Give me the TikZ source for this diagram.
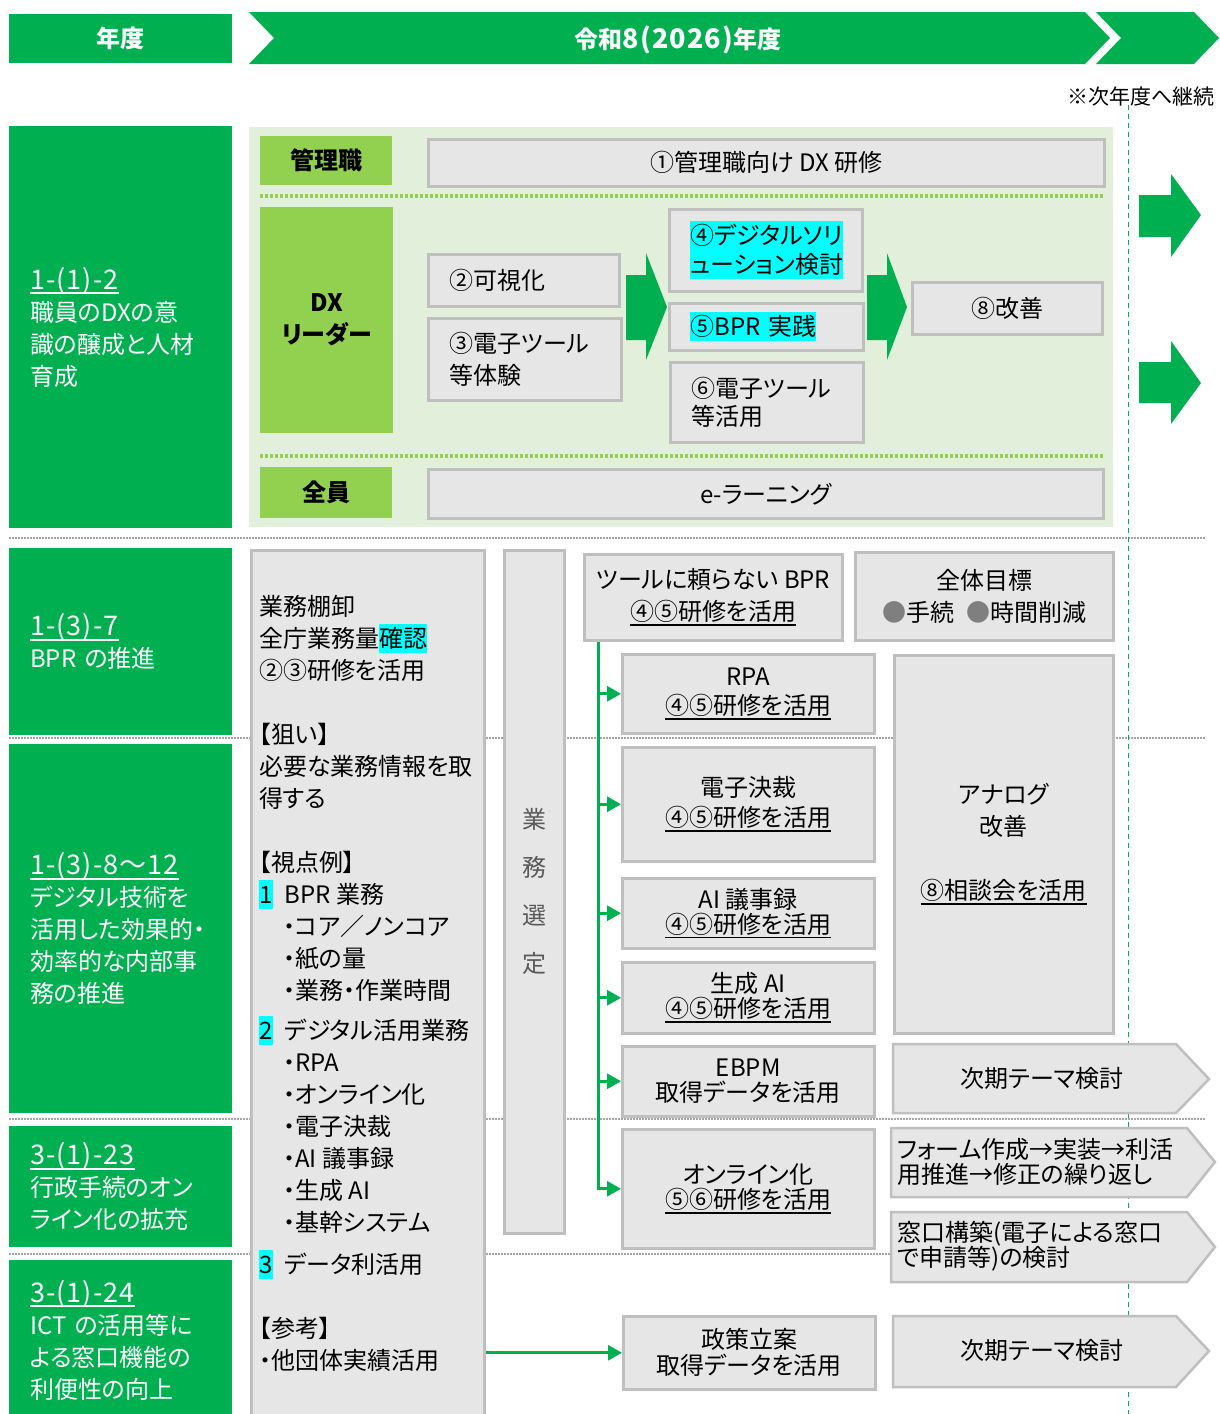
\documentclass[tikz,border=0pt]{standalone}
\usepackage{fontspec}
\setmainfont{Noto Sans CJK JP}[RawFeature=+palt]
\newfontfamily\codefont{Noto Sans CJK JP}[LetterSpace=4]
\usetikzlibrary{arrows.meta}

\definecolor{dxgreen}{HTML}{00B050}
\definecolor{leafgreen}{HTML}{92D050}
\definecolor{panelgreen}{HTML}{E2EFDA}
\definecolor{boxgray}{HTML}{E6E6E6}
\definecolor{boxline}{HTML}{BFBFBF}
\definecolor{hlcyan}{HTML}{00FFFF}
\definecolor{dotgray}{HTML}{A6A6A6}
\definecolor{markgray}{HTML}{7F7F7F}
\definecolor{selgray}{HTML}{595959}

\newcommand{\cyanhl}[1]{{\setlength{\fboxsep}{0pt}\colorbox{hlcyan}{\rule[-6pt]{0pt}{29pt}#1}}}
\newcommand{\ulthick}[1]{{\setbox0\hbox{#1}\rlap{\rule[-5pt]{\wd0}{1.8pt}}\box0}}
\newcommand{\codetext}[1]{{\codefont\fontsize{27}{32}\selectfont #1}}

\begin{document}
\begin{tikzpicture}[x=1pt, y=-1pt, font=\fontsize{24}{32}\selectfont,
  themebox/.style={fill=dxgreen, text=white, anchor=north west, inner ysep=0pt, inner xsep=21pt, text width=181pt, minimum height=#1, align=left},
  rolebox/.style={fill=leafgreen, anchor=north west, inner sep=0pt, align=center, font=\fontsize{24}{32}\selectfont\bfseries},
  planbox/.style={draw=boxline, line width=2.5pt, fill=boxgray, anchor=north west, inner sep=0pt, align=center},
  leftbox/.style={planbox, align=left, inner xsep=21pt},
  nextshape/.style={draw=boxline, line width=2.5pt, fill=boxgray},
  flowline/.style={draw=dxgreen, line width=3pt},
  flowarrow/.style={flowline, -{Triangle[length=14pt,width=15pt]}},
  sepline/.style={dotgray, line width=1.5pt, dash pattern=on 1.5pt off 1.5pt},
  rowline/.style={leafgreen, line width=4pt, dash pattern=on 2.5pt off 2.5pt},
  yearline/.style={dxgreen, line width=1pt, dash pattern=on 5pt off 4pt}]

\useasboundingbox (0,0) rectangle (1219,1414);

% header
\node[fill=dxgreen, text=white, anchor=north west, inner sep=0pt, minimum width=223pt, minimum height=49pt, font=\fontsize{24}{32}\selectfont\bfseries] (nendo) at (9,14) {年度};
\fill[dxgreen] (249,12) -- (1085,12) -- (1110,38) -- (1085,64) -- (249,64) -- (274,38) -- cycle;
\fill[dxgreen] (1096,12) -- (1194,12) -- (1219,38) -- (1194,64) -- (1096,64) -- (1121,38) -- cycle;
\node[text=white, font=\fontsize{24}{32}\selectfont\bfseries] (reiwa) at (678,40) {令和\codetext{8(2026)}年度};
\node[anchor=east, font=\fontsize{21}{24}\selectfont] (carry) at (1218,96) {※次年度へ継続};

% separators
\draw[sepline] (9,538) -- (1205,538);
\draw[sepline] (9,738) -- (1205,738);
\draw[sepline] (9,1119) -- (1205,1119);
\draw[sepline] (9,1254) -- (1205,1254);
\draw[yearline] (1128,105) -- (1128,1414);

% left column
\node[themebox=402pt] (aim1) at (9,126) {\ulthick{\codetext{1-(1)-2}}\\職員のDXの意\\識の醸成と人材\\育成};
\node[themebox=187pt] (aim2) at (9,548) {\ulthick{\codetext{1-(3)-7}}\\BPR の推進};
\node[themebox=369pt] (aim3) at (9,744) {\ulthick{\codetext{1-(3)-8～12}}\\デジタル技術を\\活用した効果的・\\効率的な内部事\\務の推進};
\node[themebox=121pt] (aim4) at (9,1126) {\ulthick{\codetext{3-(1)-23}}\\行政手続のオン\\ライン化の拡充};
\node[themebox=160pt] (aim5) at (9,1260) {\ulthick{\codetext{3-(1)-24}}\\ICT の活用等に\\よる窓口機能の\\利便性の向上};

% DX training panel
\fill[panelgreen] (249,127) rectangle (1113,527);
\draw[rowline] (260,196) -- (1103,196);
\draw[rowline] (260,456) -- (1103,456);

\node[rolebox, minimum width=132pt, minimum height=49pt] (mgr) at (260,136) {管理職};
\node[rolebox, minimum width=133pt, minimum height=226pt] (leader) at (260,207) {DX\\リーダー};
\node[rolebox, minimum width=132pt, minimum height=51pt] (staff) at (260,467) {全員};

\node[planbox, minimum width=676pt, minimum height=47pt] (mgrtrain) at (427,138) {①管理職向け DX 研修};
\node[leftbox, text width=149pt, minimum height=52pt] (visual) at (427,253) {②可視化};
\node[leftbox, text width=151pt, minimum height=82pt] (trial) at (427,317) {③電子ツール\\等体験};
\node[leftbox, text width=151pt, minimum height=82pt, font=\fontsize{24}{29}\selectfont] (solution) at (668,208) {\cyanhl{④デジタルソリ}\\\cyanhl{ューション検討}};
\node[leftbox, text width=152pt, minimum height=47pt] (bprdo) at (668,302) {\cyanhl{⑤BPR 実践}};
\node[leftbox, text width=151pt, minimum height=80pt, font=\fontsize{24}{28}\selectfont] (usetool) at (669,361) {⑥電子ツール\\等活用};
\node[planbox, minimum width=190pt, minimum height=52pt] (improve) at (911,281) {⑧改善};
\node[planbox, minimum width=675pt, minimum height=49pt] (elearn) at (427,468) {e-ラーニング};

\fill[dxgreen] (626,275) -- (646,275) -- (646,253) -- (667,307) -- (646,360) -- (646,340) -- (626,340) -- cycle;
\fill[dxgreen] (867,275) -- (887,275) -- (887,253) -- (907,307) -- (887,360) -- (887,340) -- (867,340) -- cycle;
\fill[dxgreen] (1139,195) -- (1171,195) -- (1171,174) -- (1201,215) -- (1171,257) -- (1171,237) -- (1139,237) -- cycle;
\fill[dxgreen] (1139,362) -- (1171,362) -- (1171,341) -- (1201,383) -- (1171,424) -- (1171,403) -- (1139,403) -- cycle;

% BPR area
\node[planbox, minimum width=233pt, minimum height=872pt] (survey) at (250,549) {};
\node[anchor=north west, align=left, inner sep=0pt] (surveynote) at (259,595) {業務棚卸\\
全庁業務量\cyanhl{確認}\\
②③研修を活用\\[32pt]
【狙い】\\
必要な業務情報を取\\
得する\\[32pt]
【視点例】\\
\cyanhl{1}\hspace{12pt}BPR 業務\\
\hspace*{24pt}・コア／ノンコア\\
\hspace*{24pt}・紙の量\\
\hspace*{24pt}・業務・作業時間\\[8pt]
\cyanhl{2}\hspace{12pt}デジタル活用業務\\
\hspace*{24pt}・RPA\\
\hspace*{24pt}・オンライン化\\
\hspace*{24pt}・電子決裁\\
\hspace*{24pt}・AI 議事録\\
\hspace*{24pt}・生成 AI\\
\hspace*{24pt}・基幹システム\\[10pt]
\cyanhl{3}\hspace{12pt}データ利活用\\[32pt]
【参考】\\
・他団体実績活用};
\node[planbox, minimum width=60pt, minimum height=683pt, text=selgray, font=\fontsize{24}{48}\selectfont] (select) at (503,549) {業\\務\\選\\定};

\node[planbox, minimum width=258pt, minimum height=86pt] (bprtool) at (583,553) {ツールに頼らない BPR\\\ulthick{④⑤研修を活用}};
\node[planbox, minimum width=258pt, minimum height=88pt] (goal) at (854,551) {全体目標\\{\color{markgray}●}手続\hspace{12pt}{\color{markgray}●}時間削減};
\node[planbox, minimum width=252pt, minimum height=79pt, font=\fontsize{24}{29}\selectfont] (rpa) at (621,653) {RPA\\\ulthick{④⑤研修を活用}};
\node[planbox, minimum width=252pt, minimum height=114pt, font=\fontsize{24}{30}\selectfont] (esign) at (621,746) {電子決裁\\\ulthick{④⑤研修を活用}};
\node[planbox, minimum width=252pt, minimum height=70pt, font=\fontsize{24}{25}\selectfont] (aimin) at (621,877) {AI 議事録\\\ulthick{④⑤研修を活用}};
\node[planbox, minimum width=252pt, minimum height=71pt, font=\fontsize{24}{25}\selectfont] (genai) at (621,961) {生成 AI\\\ulthick{④⑤研修を活用}};
\node[planbox, minimum width=219pt, minimum height=378pt] (analog) at (893,654) {アナログ\\改善\\[32pt]\ulthick{⑧相談会を活用}};
\node[planbox, minimum width=252pt, minimum height=70pt, font=\fontsize{24}{25}\selectfont] (ebpm) at (621,1045) {EBPM\\取得データを活用};
\node[planbox, minimum width=252pt, minimum height=119pt, font=\fontsize{24}{25}\selectfont] (online) at (621,1128) {オンライン化\\\ulthick{⑤⑥研修を活用}};
\node[planbox, minimum width=252pt, minimum height=73pt, font=\fontsize{24}{26}\selectfont] (policy) at (622,1315) {政策立案\\取得データを活用};

\draw[nextshape] (893,1044) -- (1176,1044) -- (1209,1079) -- (1176,1113) -- (893,1113) -- cycle;
\node (nextA) at (1042,1078) {次期テーマ検討};
\draw[nextshape] (891,1128) -- (1187,1128) -- (1215,1162) -- (1187,1197) -- (891,1197) -- cycle;
\node[anchor=west, align=left, inner sep=0pt, font=\fontsize{24}{25}\selectfont] (formloop) at (897,1162) {フォーム作成→実装→利活\\用推進→修正の繰り返し};
\draw[nextshape] (891,1212) -- (1187,1212) -- (1215,1247) -- (1187,1282) -- (891,1282) -- cycle;
\node[anchor=west, align=left, inner sep=0pt, font=\fontsize{24}{25}\selectfont] (counter) at (897,1246) {窓口構築(電子による窓口\\で申請等)の検討};
\draw[nextshape] (893,1316) -- (1176,1316) -- (1209,1351) -- (1176,1387) -- (893,1387) -- cycle;
\node (nextB) at (1042,1350) {次期テーマ検討};

% connectors
\coordinate (trunk) at ([xshift=15pt]bprtool.south west);
\draw[flowarrow] (trunk) |- (online.west);
\foreach \target in {rpa,esign,aimin,genai,ebpm}
  \draw[flowarrow] (trunk |- \target.west) -- (\target.west);
\draw[flowarrow] (survey.east |- policy.west) -- (policy.west);
\end{tikzpicture}
\end{document}
